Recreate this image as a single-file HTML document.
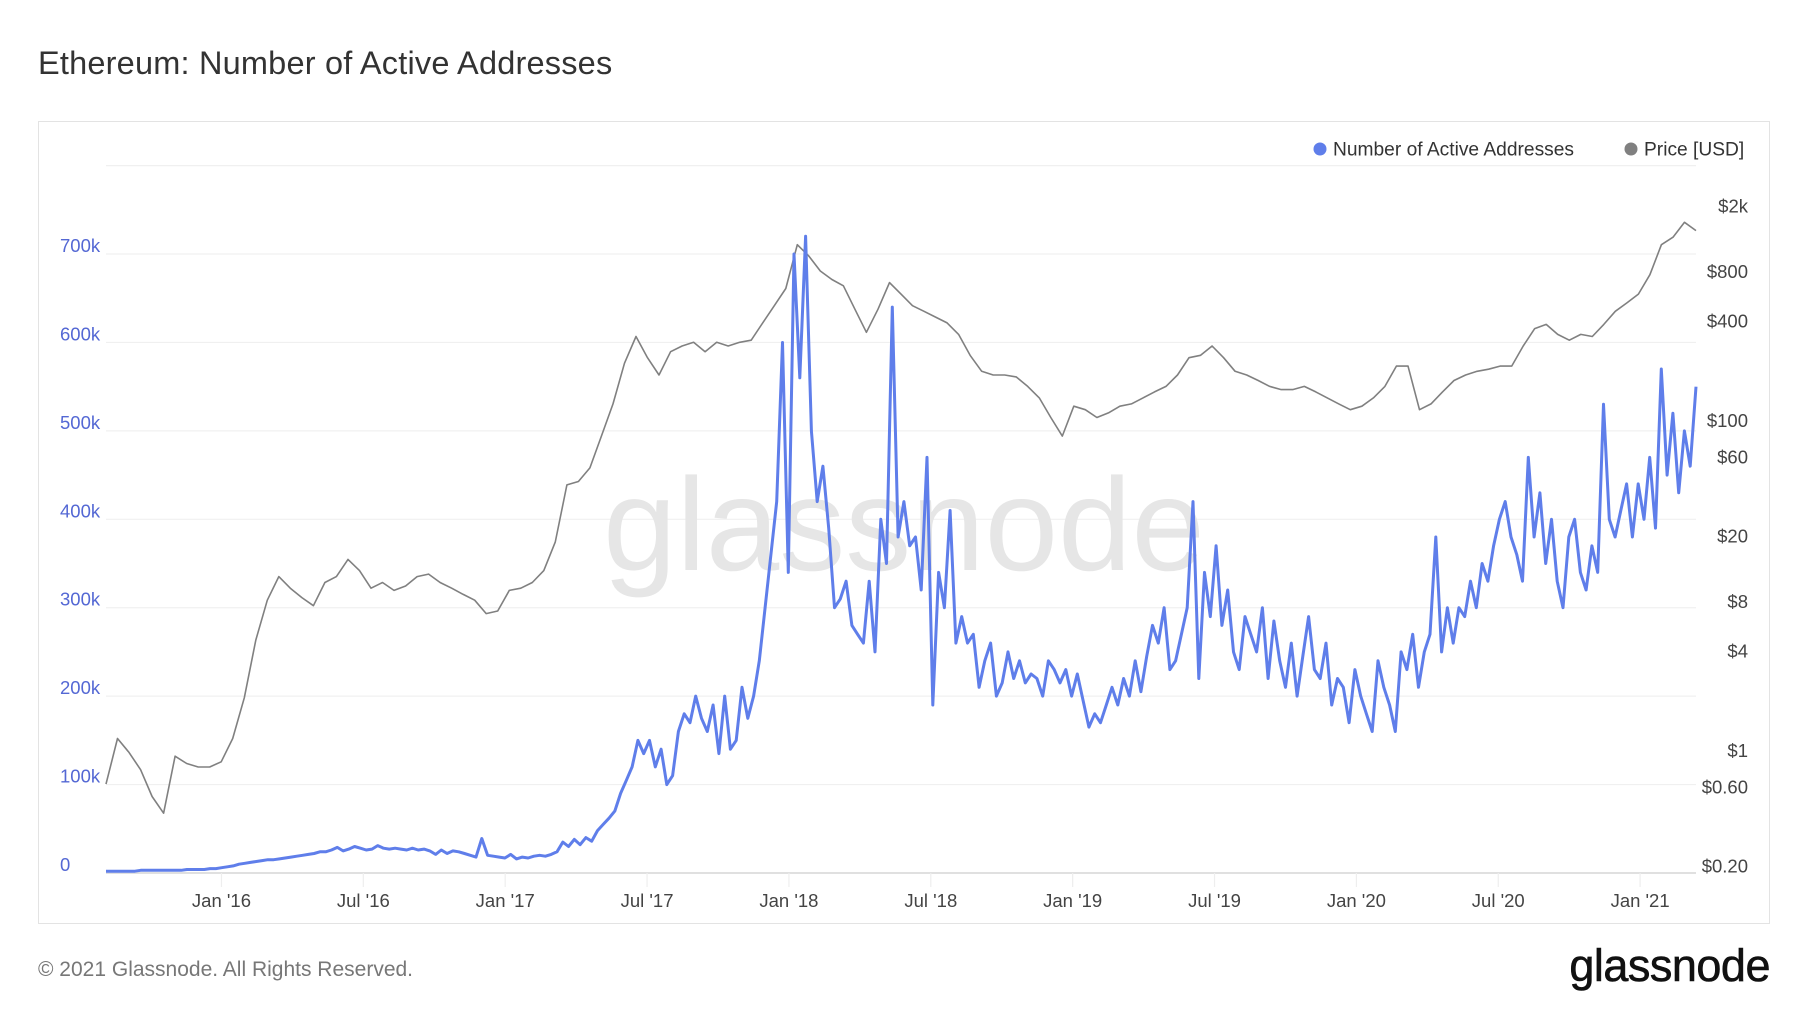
<!DOCTYPE html>
<html><head><meta charset="utf-8"><title>Ethereum: Number of Active Addresses</title>
<style>
html,body{margin:0;padding:0;background:#fff;}
body{width:1800px;height:1013px;overflow:hidden;position:relative;font-family:"Liberation Sans",sans-serif;}
#title{position:absolute;left:38px;top:45px;font-size:32.5px;color:#333;margin:0;font-weight:normal;letter-spacing:0.2px;}
#frame{position:absolute;left:38px;top:121px;width:1732px;height:803px;border:1px solid #e3e3e3;box-sizing:border-box;}
#footer{position:absolute;left:38px;top:958px;font-size:21px;color:#777;}
#logo{position:absolute;right:30px;top:940px;font-size:45px;color:#111;letter-spacing:-0.5px;-webkit-text-stroke:0.6px #111;}
svg{position:absolute;left:0;top:0;}
</style></head><body>
<h1 id="title">Ethereum: Number of Active Addresses</h1>
<div id="frame"></div>
<svg id="chart" width="1800" height="1013"></svg>
<div id="footer">© 2021 Glassnode. All Rights Reserved.</div>
<div id="logo">glassnode</div>
<script>
// ---- data ----
const tStart = 2015.593, tEnd = 2021.197;
// weekly active addresses (thousands)
const addresses = [2,2,2,2,2,2,3,3,3,3,3,3,3,3,4,4,4,4,
5,5,6,7,8,10,11,12,13,14,15,15,16,17,18,19,
20,21,22,24,24,26,29,25,27,30,28,26,27,31,
28,27,28,27,26,28,26,27,25,21,26,22,25,24,22,20,
18,39,20,19,18,17,21,16,18,17,19,20,19,21,
24,35,30,38,32,40,36,48,55,62,70,90,
105,120,150,135,150,120,140,100,110,160,180,170,
200,175,160,190,135,200,140,150,210,175,200,240,
300,360,420,600,340,700,560,720,
500,420,460,390,300,310,330,280,
270,260,330,250,400,350,
640,380,420,370,380,320,
470,190,340,300,410,260,290,260,
270,210,240,260,200,215,250,220,
240,215,225,220,200,240,230,215,
230,200,225,195,165,180,170,190,
210,190,220,200,240,205,245,280,
260,300,230,240,270,300,420,220,
340,290,370,280,320,250,230,290,
270,250,300,220,285,240,210,260,
200,245,290,230,220,260,190,220,
210,170,230,200,180,160,240,210,
190,160,250,230,270,210,250,270,
380,250,300,260,300,290,330,300,
350,330,370,400,420,380,360,330,
470,380,430,350,400,330,300,380,
400,340,320,370,340,530,400,380,
410,440,380,440,400,470,390,570,
450,520,430,500,460,550];
// semi-monthly price (USD)
const prices = [0.63,1.19,0.98,0.77,0.53,0.42,0.93,0.84,0.80,0.80,0.86,1.19,2.1,4.7,8.2,11.4,9.7,8.5,7.6,10.5,
11.4,14.5,12.4,9.7,10.5,9.4,10,11.4,11.8,10.5,9.7,8.9,8.2,6.8,7.05,9.4,9.7,10.5,12.4,18.5,
41,43,52,81,127,224,325,242,190,263,285,300,263,300,285,300,309,393,500,635,
1170,1000,811,720,660,476,345,476,690,588,500,462,426,393,335,250,200,190,190,185,
162,138,105,81,123,117,105,112,123,127,138,150,162,190,242,250,285,242,200,190,
176,162,155,155,162,150,138,127,117,123,138,162,215,215,117,127,150,176,190,200,
206,215,215,285,363,385,335,309,335,325,385,462,520,588,770,1170,1300,1600,1425];
const leftTicks = [0,100,200,300,400,500,600,700,800];
const leftTickLabels = ["0","100k","200k","300k","400k","500k","600k","700k",""];
const priceTicks = [2000,800,400,100,60,20,8,4,1,0.6,0.2];
const priceTickLabels = ["$2k","$800","$400","$100","$60","$20","$8","$4","$1","$0.60","$0.20"];
const dateTicks = [2016.0,2016.5,2017.0,2017.5,2018.0,2018.5,2019.0,2019.5,2020.0,2020.5,2021.0];
const dateTickLabels = ["Jan '16","Jul '16","Jan '17","Jul '17","Jan '18","Jul '18","Jan '19","Jul '19","Jan '20","Jul '20","Jan '21"];

// ---- scales ----
const X0 = 106, X1 = 1696, Y0 = 873, YTOP = 165.6;
const xScale = t => X0 + (t - tStart) / (tEnd - tStart) * (X1 - X0);
const yLeft = k => Y0 - k / 800 * (Y0 - YTOP);
const yPrice = p => 421 - 165 * Math.log10(p / 100);
const NS = "http://www.w3.org/2000/svg";
const svg = document.getElementById('chart');
function mk(tag, attrs, parent) {
  const e = document.createElementNS(NS, tag);
  for (const k in attrs) e.setAttribute(k, attrs[k]);
  (parent || svg).appendChild(e);
  return e;
}

// gridlines + left ticks
leftTicks.forEach((v, i) => {
  const y = yLeft(v);
  const g = mk('line', {x1: X0, x2: X1, y1: y, y2: y, stroke: i === 0 ? '#e0e0e0' : '#f0f0f0', 'stroke-width': i === 0 ? 2 : 1.2});
  
  
  if (leftTickLabels[i]) {
    const t = mk('text', {x: 60, y: y - 2, fill: '#5468d4', 'font-size': 18.5, 'font-family': 'Liberation Sans, sans-serif'});
    t.textContent = leftTickLabels[i];
    
    
  }
});
// x ticks
dateTicks.forEach((d, i) => {
  const x = xScale(d);
  const l = mk('line', {x1: x, x2: x, y1: Y0, y2: Y0 + 14, stroke: '#eeeeee', 'stroke-width': 1.2});
  
  
  const t = mk('text', {x: x, y: 907, fill: '#444', 'font-size': 18.5, 'text-anchor': 'middle', 'font-family': 'Liberation Sans, sans-serif'});
  t.textContent = dateTickLabels[i];
  
  
});
// price ticks
priceTicks.forEach((p, i) => {
  const t = mk('text', {x: 1748, y: yPrice(p) + 6, fill: '#444', 'font-size': 18.5, 'text-anchor': 'end', 'font-family': 'Liberation Sans, sans-serif'});
  t.textContent = priceTickLabels[i];
  
  
});
// watermark
const wm = mk('text', {x: 904, y: 570, fill: '#e6e6e6', 'font-size': 132, 'text-anchor': 'middle', 'font-family': 'Liberation Sans, sans-serif'});
wm.textContent = 'glassnode';



// price line
let dp = '';
prices.forEach((p, i) => {
  const t = tStart + i / (prices.length - 1) * (tEnd - tStart);
  dp += (i ? 'L' : 'M') + xScale(t).toFixed(1) + ',' + yPrice(p).toFixed(1);
});
const pl = mk('path', {d: dp, fill: 'none', stroke: '#808080', 'stroke-width': 1.6, 'stroke-linejoin': 'round'});



// addresses line
let da = '';
addresses.forEach((v, i) => {
  const t = tStart + i / (addresses.length - 1) * (tEnd - tStart);
  da += (i ? 'L' : 'M') + xScale(t).toFixed(1) + ',' + yLeft(v).toFixed(1);
});
const al = mk('path', {d: da, fill: 'none', stroke: '#5f7eea', 'stroke-width': 3, 'stroke-linejoin': 'round'});



// legend
const c1 = mk('circle', {cx: 1320, cy: 149, r: 6.5, fill: '#5f7eea'});


const l1 = mk('text', {x: 1333, y: 155.5, fill: '#333', 'font-size': 19.2, 'font-family': 'Liberation Sans, sans-serif'});
l1.textContent = 'Number of Active Addresses';


const c2 = mk('circle', {cx: 1631, cy: 149, r: 6.5, fill: '#808080'});


const l2 = mk('text', {x: 1644, y: 155.5, fill: '#333', 'font-size': 19.2, 'font-family': 'Liberation Sans, sans-serif'});
l2.textContent = 'Price [USD]';


</script>
</body></html>
